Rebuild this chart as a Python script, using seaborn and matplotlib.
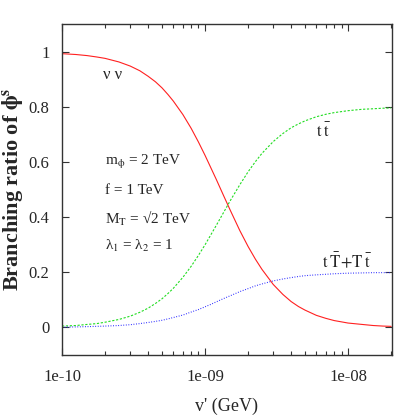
import numpy as np
import pandas as pd
import matplotlib
matplotlib.use('Agg')
import matplotlib.pyplot as plt
from matplotlib.ticker import FixedLocator, LogLocator, NullFormatter
import seaborn as sb

# branching ratios of phi^s (v' in GeV)
vprime = [1e-10, 1.25e-10, 1.5e-10, 1.75e-10, 2e-10, 2.5e-10, 3e-10, 3.5e-10,
          4e-10, 4.5e-10, 5e-10, 5.5e-10, 6e-10, 7e-10, 8e-10, 9e-10,
          1e-9, 1.1e-9, 1.2e-9, 1.35e-9, 1.5e-9, 1.75e-9, 2e-9, 2.25e-9,
          2.5e-9, 3e-9, 3.5e-9, 4e-9, 4.5e-9, 5e-9, 6e-9, 7e-9, 8e-9,
          1e-8, 1.25e-8, 1.5e-8, 1.75e-8, 2e-8]
br_nunu = [0.994, 0.991, 0.987, 0.982, 0.977, 0.964, 0.949, 0.932,
           0.912, 0.892, 0.870, 0.846, 0.822, 0.773, 0.723, 0.673,
           0.625, 0.579, 0.537, 0.478, 0.426, 0.352, 0.294, 0.248,
           0.211, 0.156, 0.120, 0.094, 0.076, 0.063, 0.044, 0.033, 0.025,
           0.016, 0.011, 0.007, 0.005, 0.004]
br_tt = [0.005, 0.007, 0.011, 0.014, 0.019, 0.029, 0.041, 0.055,
         0.070, 0.087, 0.104, 0.123, 0.142, 0.182, 0.222, 0.262,
         0.300, 0.337, 0.371, 0.418, 0.460, 0.518, 0.565, 0.602,
         0.632, 0.675, 0.704, 0.725, 0.739, 0.750, 0.765, 0.774, 0.780,
         0.787, 0.792, 0.794, 0.796, 0.797]
br_tT = [0.001, 0.002, 0.003, 0.004, 0.005, 0.007, 0.010, 0.014,
         0.018, 0.022, 0.026, 0.031, 0.036, 0.045, 0.056, 0.065,
         0.075, 0.084, 0.093, 0.105, 0.115, 0.130, 0.141, 0.151,
         0.158, 0.169, 0.176, 0.181, 0.185, 0.188, 0.191, 0.193, 0.195,
         0.197, 0.198, 0.199, 0.199, 0.199]

xticks = [1e-10, 1e-9, 1e-8]
xticklabels = ['1e-10', '1e-09', '1e-08']
yticks = [0, 0.2, 0.4, 0.6, 0.8, 1]
yticklabels = ['0', '0.2', '0.4', '0.6', '0.8', '1']

df = pd.DataFrame({'v': vprime, 'nunu': br_nunu, 'tt': br_tt, 'tT': br_tT})

sb.set_style('ticks')
plt.rcParams['font.family'] = ['Liberation Serif', 'DejaVu Serif']
plt.rcParams['mathtext.fontset'] = 'stix'
plt.rcParams['xtick.direction'] = 'in'
plt.rcParams['ytick.direction'] = 'in'

fig = plt.figure(figsize=(4.15, 4.15), dpi=100)
ax = fig.add_axes([0.1494, 0.1446, 0.9439 - 0.1494, 0.941 - 0.1446])

sb.lineplot(data=df, x='v', y='nunu', ax=ax, color='#ff2020', lw=0.8)
sb.lineplot(data=df, x='v', y='tt', ax=ax, color='#22dd22', lw=0.8)
ax.lines[-1].set_dashes([2, 1.5])
sb.lineplot(data=df, x='v', y='tT', ax=ax, color='#2222ff', lw=0.8)
ax.lines[-1].set_dashes([0.8, 1.5])

ax.set_xscale('log')
ax.set_xlim(1e-10, 2.02e-8)
ax.set_ylim(-0.1, 1.1)
ax.xaxis.set_major_locator(FixedLocator(xticks))
ax.set_xticklabels(xticklabels)
ax.xaxis.set_minor_locator(LogLocator(base=10, subs=np.arange(2, 10)))
ax.xaxis.set_minor_formatter(NullFormatter())
ax.set_yticks(yticks)
ax.set_yticklabels(yticklabels)
ax.tick_params(which='both', top=True, right=True, labelsize=12, width=0.8, color='#333333')
ax.tick_params(which='major', length=5)
ax.tick_params(axis='x', which='major', pad=10)
ax.tick_params(axis='y', which='major', pad=9)
ax.tick_params(which='minor', length=3)
for s in ax.spines.values():
    s.set_linewidth(1.0)
    s.set_color('#333333')

ax.set_xlabel("v' (GeV)", fontsize=13)
ax.xaxis.set_label_coords(0.5, -0.128)
ax.set_ylabel(r'Branching ratio of $\mathbf{\phi^s}$', fontsize=16, fontweight='bold')
ax.yaxis.set_label_coords(-0.105, 0.5)

ax.text(2.25e-10, 0.917, 'ν ν', fontsize=12, ha='center', va='center')
ax.text(6.74e-9, 0.711, r'$\mathrm{t\;\bar{t}}$', fontsize=12, ha='center', va='center')
ax.text(9.84e-9, 0.24, r'$\mathrm{t\;\bar{T}{+}T\;\bar{t}}$', fontsize=12, ha='center', va='center')

ax.text(2.0e-10, 0.601, r'm$_{\mathrm{\phi}}$ = 2 TeV', fontsize=11, va='center')
ax.text(2.0e-10, 0.497, 'f = 1 TeV', fontsize=11, va='center')
ax.text(2.0e-10, 0.395, r'M$_\mathrm{T}$ = √2 TeV', fontsize=11, va='center')
ax.text(2.0e-10, 0.296, r'λ$_1$ = λ$_2$ = 1', fontsize=11, va='center')

fig.savefig('out.png', dpi=100)
